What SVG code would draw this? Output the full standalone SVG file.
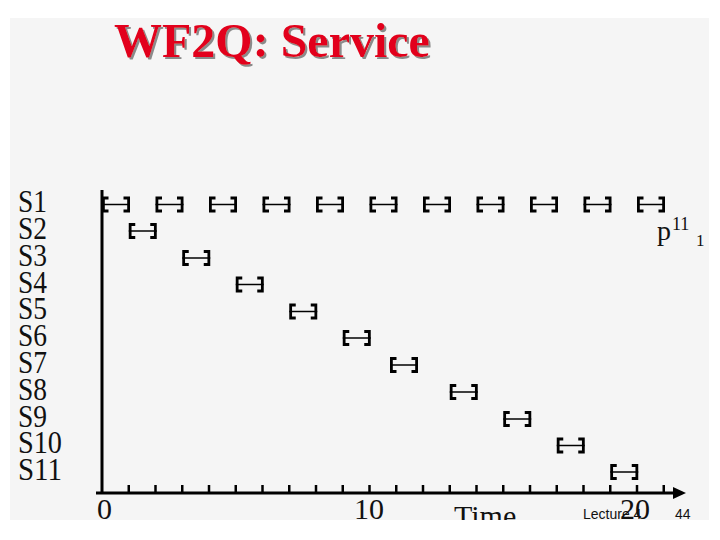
<svg xmlns="http://www.w3.org/2000/svg" xmlns:xlink="http://www.w3.org/1999/xlink" width="720" height="540" viewBox="0 0 720 540">
<style>
.ser{font-family:"Liberation Serif","Times New Roman",serif;fill:#111}
.lab{font-size:32px}
.num{font-size:30px}
.br{fill:none;stroke:#000;stroke-width:2.8}
.mid{stroke:#000;stroke-width:1.5}
.ax{stroke:#000;stroke-width:3;fill:none}
.tk{stroke:#000;stroke-width:2.5}
.title{font-family:"Liberation Serif","Times New Roman",serif;font-weight:bold;font-size:48px;fill:#e2001a}
</style>
<defs>
<g id="bracket">
<path class="br" d="M6.5,-6.5 H1.4 V6.5 H6.5 M21.5,-6.5 H26.6 V6.5 H21.5"/>
<line class="mid" x1="0" y1="0" x2="28" y2="0"/>
</g>
<clipPath id="panel"><rect x="10" y="18" width="699" height="502"/></clipPath>
<filter id="shadow" x="-5%" y="-20%" width="110%" height="140%">
<feDropShadow dx="2" dy="2" stdDeviation="0.6" flood-color="#8a8a8a" flood-opacity="1"/>
</filter>
</defs>
<rect width="720" height="540" fill="#ffffff"/>
<rect x="10" y="18" width="699" height="502" fill="#f5f5f5"/>
<g id="title">
<text class="title" x="114" y="57" filter="url(#shadow)">WF2Q: Service</text>
</g>
<g id="labels" class="ser lab">
<text x="18" y="212" textLength="29" lengthAdjust="spacingAndGlyphs">S1</text>
<text x="18" y="239" textLength="29" lengthAdjust="spacingAndGlyphs">S2</text>
<text x="18" y="265.5" textLength="29" lengthAdjust="spacingAndGlyphs">S3</text>
<text x="18" y="292.5" textLength="29" lengthAdjust="spacingAndGlyphs">S4</text>
<text x="18" y="319" textLength="29" lengthAdjust="spacingAndGlyphs">S5</text>
<text x="18" y="346" textLength="29" lengthAdjust="spacingAndGlyphs">S6</text>
<text x="18" y="373" textLength="29" lengthAdjust="spacingAndGlyphs">S7</text>
<text x="18" y="399.5" textLength="29" lengthAdjust="spacingAndGlyphs">S8</text>
<text x="18" y="426.5" textLength="29" lengthAdjust="spacingAndGlyphs">S9</text>
<text x="18" y="453" textLength="44" lengthAdjust="spacingAndGlyphs">S10</text>
<text x="18" y="480" textLength="44" lengthAdjust="spacingAndGlyphs">S11</text>
</g>
<g id="axes">
<line class="ax" x1="102" y1="190" x2="102" y2="493"/>
<line class="ax" x1="96" y1="493" x2="675" y2="493"/>
<polygon points="673,487 686,493 673,499" fill="#000"/>
<g class="tk">
<line x1="128.75" y1="485" x2="128.75" y2="493"/>
<line x1="155.5" y1="485" x2="155.5" y2="493"/>
<line x1="182.25" y1="485" x2="182.25" y2="493"/>
<line x1="209" y1="485" x2="209" y2="493"/>
<line x1="235.75" y1="485" x2="235.75" y2="493"/>
<line x1="262.5" y1="485" x2="262.5" y2="493"/>
<line x1="289.25" y1="485" x2="289.25" y2="493"/>
<line x1="316" y1="485" x2="316" y2="493"/>
<line x1="342.75" y1="485" x2="342.75" y2="493"/>
<line x1="369.5" y1="485" x2="369.5" y2="493"/>
<line x1="396.25" y1="485" x2="396.25" y2="493"/>
<line x1="423" y1="485" x2="423" y2="493"/>
<line x1="449.75" y1="485" x2="449.75" y2="493"/>
<line x1="476.5" y1="485" x2="476.5" y2="493"/>
<line x1="503.25" y1="485" x2="503.25" y2="493"/>
<line x1="530" y1="485" x2="530" y2="493"/>
<line x1="556.75" y1="485" x2="556.75" y2="493"/>
<line x1="583.5" y1="485" x2="583.5" y2="493"/>
<line x1="610.25" y1="485" x2="610.25" y2="493"/>
<line x1="637" y1="485" x2="637" y2="493"/>
<line x1="663.75" y1="485" x2="663.75" y2="493"/>
</g>
<g class="ser num" clip-path="url(#panel)">
<text x="97" y="519">0</text>
<text x="354" y="519">10</text>
<text x="620" y="519">20</text>
<text x="454" y="526">Time</text>
</g>
</g>
<g id="packets">
<use xlink:href="#bracket" x="102" y="204.5"/>
<use xlink:href="#bracket" x="155.5" y="204.5"/>
<use xlink:href="#bracket" x="209" y="204.5"/>
<use xlink:href="#bracket" x="262.5" y="204.5"/>
<use xlink:href="#bracket" x="316" y="204.5"/>
<use xlink:href="#bracket" x="369.5" y="204.5"/>
<use xlink:href="#bracket" x="423" y="204.5"/>
<use xlink:href="#bracket" x="476.5" y="204.5"/>
<use xlink:href="#bracket" x="530" y="204.5"/>
<use xlink:href="#bracket" x="583.5" y="204.5"/>
<use xlink:href="#bracket" x="637" y="204.5"/>
<use xlink:href="#bracket" x="128.75" y="231"/>
<use xlink:href="#bracket" x="182.25" y="258"/>
<use xlink:href="#bracket" x="235.75" y="284.5"/>
<use xlink:href="#bracket" x="289.25" y="311.5"/>
<use xlink:href="#bracket" x="342.75" y="338"/>
<use xlink:href="#bracket" x="390" y="365"/>
<use xlink:href="#bracket" x="449.75" y="392"/>
<use xlink:href="#bracket" x="503.25" y="419"/>
<use xlink:href="#bracket" x="556.75" y="445.5"/>
<use xlink:href="#bracket" x="610.25" y="472"/>
</g>
<g id="p11" class="ser">
<text x="657" y="240" font-size="28">p</text>
<text x="672" y="230" font-size="18">11</text>
<text x="696" y="246" font-size="17">1</text>
</g>
<g id="footer" font-family="'Liberation Sans',Arial,sans-serif" font-size="14" fill="#111">
<text x="583" y="519">Lecture 4</text>
<text x="675" y="519">44</text>
</g>
</svg>
